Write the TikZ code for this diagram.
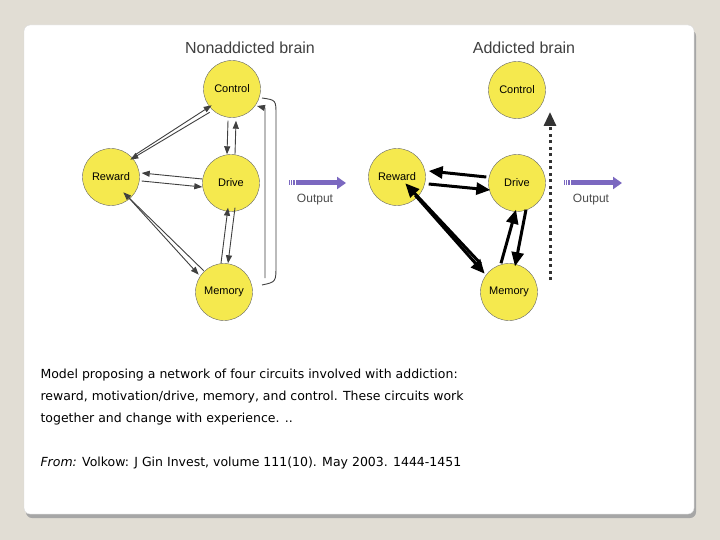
\documentclass[tikz,border=0pt]{standalone}
\usepackage{fontspec}
\setmainfont{DejaVu Sans}
\newfontfamily\dia{Liberation Sans}
\usetikzlibrary{arrows.meta}
\definecolor{bg}{HTML}{E1DDD4}
\definecolor{yel}{HTML}{F5E94E}
\definecolor{purp}{HTML}{7B68C0}
\begin{document}
\begin{tikzpicture}[x=1pt,y=-1pt,
 circ/.style={circle,draw=black!60,fill=yel,minimum size=57pt,inner sep=0pt,font=\dia\fontsize{11}{12}\selectfont},
 tarr/.style={draw=black!75,line width=0.9pt,-{Triangle[length=8pt,width=6pt]}},
 barr/.style={draw=black,line width=3pt,-{Triangle[length=14pt,width=12pt]}},
 ttl/.style={font=\dia\fontsize{16}{18}\selectfont,text=black!75},
 outarr/.style={purp,line width=5pt,-{Triangle[length=9pt,width=12pt]}},
 outl/.style={font=\dia\fontsize{12}{14}\selectfont,text=black!70}]
\useasboundingbox (0,0) rectangle (720,540);
\fill[bg] (0,0) rectangle (720,540);
\fill[black!35,rounded corners=6pt] (26,30) rectangle (696,518);
\fill[white,draw=black!15,rounded corners=6pt] (24,25) rectangle (694,514);
% left
\node[ttl] (t1) at (250,48) {Nonaddicted brain};
\node[circ] (c1) at (232,89) {Control};
\node[circ] (r1) at (111,177) {Reward};
\node[circ] (d1) at (231,183) {Drive};
\node[circ] (m1) at (224,292) {Memory};
\draw[tarr] ([xshift=-2pt,yshift=-3pt]c1.south west) -- ([xshift=-1pt,yshift=-3pt]r1.north east);
\draw[tarr] ([xshift=4pt,yshift=2pt]r1.north east) -- ([xshift=0pt,yshift=4pt]c1.south west);
\draw[tarr] ([xshift=-4pt,yshift=-3pt]c1.south) -- ([xshift=-4pt]d1.north);
\draw[tarr] ([xshift=4pt]d1.north) -- ([xshift=4pt,yshift=-3pt]c1.south);
\draw[tarr] ([yshift=-4pt,xshift=2pt]r1.east) -- ([yshift=-4pt]d1.west);
\draw[tarr] ([yshift=4pt]d1.west) -- ([yshift=4pt,xshift=2pt]r1.east);
\draw[tarr] ([xshift=-3pt]r1.south east) -- ([xshift=-5pt,yshift=-3pt]m1.north west);
\draw[tarr] ([xshift=0pt,yshift=1pt]m1.north west) -- ([xshift=-8pt,yshift=5pt]r1.south east);
\draw[tarr] ([xshift=-3pt]m1.north) -- ([xshift=-3pt,yshift=4pt]d1.south);
\draw[tarr] ([xshift=4pt,yshift=4pt]d1.south) -- ([xshift=4pt]m1.north);
\coordinate (b1) at (265,108);
\coordinate (b2) at (265,278);
\draw[tarr] (b2) -- (b1) -- ++(-8,-2);
\draw[draw=black!75,line width=0.9pt] (262,98) .. controls (276,100) .. (276,115) -- (276,265) .. controls (276,282) .. (262,285);
\coordinate (o1a) at (288,183);
\coordinate (o1b) at (346,183);
\draw[outarr] (o1a) -- (o1b);
\draw[white,line width=5pt,dash pattern=on 1pt off 1.2pt] (288,183) -- (295,183);
\node[outl] (ol1) at (315,200) {Output};
% right
\node[ttl] (t2) at (524,48) {Addicted brain};
\node[circ] (c2) at (517,90) {Control};
\node[circ] (r2) at (397,177) {Reward};
\node[circ] (d2) at (517,183) {Drive};
\node[circ] (m2) at (509,292) {Memory};
\draw[barr] ([yshift=-7pt,xshift=3pt]r2.east) -- ([yshift=-7pt,xshift=2pt]d2.west);
\draw[barr] ([yshift=6pt,xshift=-2pt]d2.west) -- ([yshift=6pt,xshift=3pt]r2.east);
\draw[barr] ([xshift=-2pt,yshift=2pt]r2.south east) -- ([xshift=-4pt,yshift=-2pt]m2.north west);
\draw[barr] ([xshift=-8pt,yshift=8pt]m2.north west) -- ([xshift=-12pt,yshift=14pt]r2.south east);
\draw[barr] ([xshift=-8pt]m2.north) -- ([xshift=-1pt,yshift=2pt]d2.south);
\draw[barr] ([xshift=9pt,yshift=2pt]d2.south) -- ([xshift=6pt,yshift=-3pt]m2.north);
\coordinate (dt1) at (550,280);
\coordinate (dt2) at (550,112);
\draw[black!80,line width=3pt,dash pattern=on 3pt off 3.5pt,-{Triangle[length=14pt,width=12pt]}] (dt1) -- (dt2);
\coordinate (o2a) at (563,183);
\coordinate (o2b) at (622,183);
\draw[outarr] (o2a) -- (o2b);
\draw[white,line width=5pt,dash pattern=on 1pt off 1.2pt] (563,183) -- (570,183);
\node[outl] (ol2) at (591,200) {Output};
% caption
\node[anchor=west,font=\fontsize{12.5}{15}\selectfont] (l1) at (37,375) {Model proposing a network of four circuits involved with addiction:};
\node[anchor=west,font=\fontsize{12.5}{15}\selectfont] (l2) at (37,397) {reward, motivation/drive, memory, and control. These circuits work};
\node[anchor=west,font=\fontsize{12.5}{15}\selectfont] (l3) at (37,419) {together and change with experience. ..};
\node[anchor=west,font=\fontsize{12.5}{15}\selectfont] (l4) at (37,463) {\textit{From:} Volkow: J Gin Invest, volume 111(10). May 2003. 1444-1451};
\end{tikzpicture}
\end{document}
